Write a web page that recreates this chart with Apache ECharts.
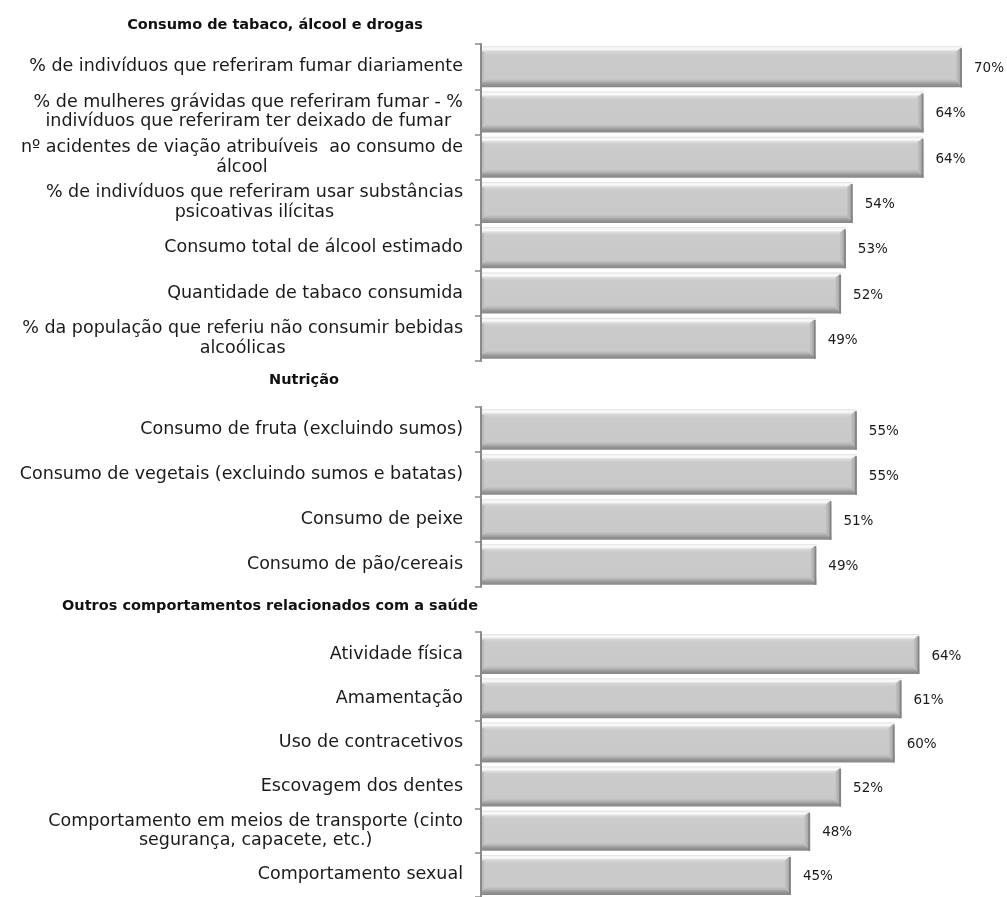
<!DOCTYPE html>
<html>
<head>
<meta charset="utf-8">
<script src="https://cdn.jsdelivr.net/npm/echarts@6/dist/echarts.min.js"></script>
<style>
html,body{margin:0;padding:0;background:#fff;}
#chart{width:1007px;height:897px;}
</style>
</head>
<body>
<div id="chart"></div>
<script>
// ---- data ----
const groupTitles = ['Consumo de tabaco, álcool e drogas', 'Nutrição', 'Outros comportamentos relacionados com a saúde'];

const cats1 = [
  '% de indivíduos que referiram fumar diariamente',
  '% de mulheres grávidas que referiram fumar - %\nindivíduos que referiram ter deixado de fumar',
  'nº acidentes de viação atribuíveis  ao consumo de\nálcool',
  '% de indivíduos que referiram usar substâncias\npsicoativas ilícitas',
  'Consumo total de álcool estimado',
  'Quantidade de tabaco consumida',
  '% da população que referiu não consumir bebidas\nalcoólicas'
];
const vals1 = [70, 64.4, 64.4, 54.1, 53.1, 52.4, 48.7];

const cats2 = [
  'Consumo de fruta (excluindo sumos)',
  'Consumo de vegetais (excluindo sumos e batatas)',
  'Consumo de peixe',
  'Consumo de pão/cereais'
];
const vals2 = [54.7, 54.7, 51.0, 48.8];

const cats3 = [
  'Atividade física',
  'Amamentação',
  'Uso de contracetivos',
  'Escovagem dos dentes',
  'Comportamento em meios de transporte (cinto\nsegurança, capacete, etc.)',
  'Comportamento sexual'
];
const vals3 = [63.8, 61.2, 60.2, 52.4, 47.9, 45.1];

const xMax = 70;

// ---- chart ----
const FONT = '"DejaVu Sans", sans-serif';
const chart = echarts.init(document.getElementById('chart'), null, {renderer: 'canvas'});

const barGrad = new echarts.graphic.LinearGradient(0, 0, 0, 1, [
  {offset: 0, color: '#dcdcdc'},
  {offset: 0.03, color: '#f2f2f2'},
  {offset: 0.07, color: '#fbfbfb'},
  {offset: 0.13, color: '#d8d8d8'},
  {offset: 0.2, color: '#cbcbcb'},
  {offset: 0.8, color: '#c9c9c9'},
  {offset: 0.86, color: '#b6b6b6'},
  {offset: 0.91, color: '#9e9e9e'},
  {offset: 0.95, color: '#8f8f8f'},
  {offset: 1, color: '#888888'}
]);

function renderBar(params, api) {
  const v = api.value(0);
  const c = api.value(1);
  const start = api.coord([0, c]);
  const end = api.coord([v, c]);
  const band = api.size([0, 1])[1];
  const h = band * 0.905;
  const top = start[1] - h / 2;
  const x0 = start[0] + 1;
  const w = end[0] - x0;
  const txt = Math.round(v) + '%';
  return {
    type: 'group',
    children: [
      {type: 'rect', shape: {x: x0, y: top, width: w, height: h}, style: {fill: barGrad}},
      {type: 'rect', shape: {x: x0, y: top + h * 0.14, width: 3, height: h * 0.72},
        style: {fill: new echarts.graphic.LinearGradient(0, 0, 1, 0, [{offset: 0, color: '#b4b4b4'}, {offset: 1, color: '#cbcbcb'}])}},
      {type: 'polygon', shape: {points: [[end[0] - 6, top + h * 0.14], [end[0] - 2, top + 2], [end[0] - 2, top + h - 2], [end[0] - 6, top + h * 0.84]]},
        style: {fill: new echarts.graphic.LinearGradient(0, 0, 1, 0, [{offset: 0, color: '#c6c6c6'}, {offset: 1, color: '#a9a9a9'}])}},
      {type: 'rect', shape: {x: end[0] - 2, y: top + 2, width: 2, height: h - 2}, style: {fill: '#858585'}},
      {type: 'text', x: end[0] + 12, y: start[1] + 2,
        style: {text: txt, fill: '#1a1a1a', font: '13.5px ' + FONT, verticalAlign: 'middle', textVerticalAlign: 'middle', align: 'left'}}
    ]
  };
}

const grids = [
  {left: 481, width: 481, top: 44, height: 317},
  {left: 481, width: 481, top: 407, height: 180},
  {left: 481, width: 481, top: 632, height: 271}
];
const catsList = [cats1, cats2, cats3];
const valsList = [vals1, vals2, vals3];
const titleCenters = [[275, 25], [304, 380], [270, 606]];

const option = {
  animation: false,
  backgroundColor: '#ffffff',
  title: groupTitles.map((t, i) => ({
    text: t, left: titleCenters[i][0], top: titleCenters[i][1], padding: 0,
    textAlign: 'center', textVerticalAlign: 'middle',
    textStyle: {fontFamily: FONT, fontSize: 14.5, fontWeight: 'bold', color: '#111'}
  })),
  grid: grids,
  xAxis: grids.map((g, i) => ({
    type: 'value', gridIndex: i, min: 0, max: xMax, show: false
  })),
  yAxis: catsList.map((cats, i) => ({
    type: 'category', gridIndex: i, data: cats, inverse: true,
    axisLine: {show: true, lineStyle: {color: '#8a8a8a', width: 2}},
    axisTick: {show: true, length: 6, lineStyle: {color: '#8a8a8a', width: 1.5}},
    splitLine: {show: false},
    axisLabel: {
      margin: 18, color: '#1a1a1a', fontFamily: FONT, fontSize: 17.5, lineHeight: 19.5,
      formatter: (val) => '{c|' + val + '}',
      rich: {c: {align: 'center', fontFamily: FONT, fontSize: 17.5, lineHeight: 19.5, color: '#1a1a1a'}}
    }
  })),
  series: valsList.map((vals, i) => ({
    type: 'custom', coordinateSystem: 'cartesian2d', xAxisIndex: i, yAxisIndex: i,
    renderItem: renderBar, encode: {x: 0, y: 1},
    data: vals.map((v, j) => [v, j]),
    clip: false
  }))
};
chart.setOption(option);
</script>
</body>
</html>
